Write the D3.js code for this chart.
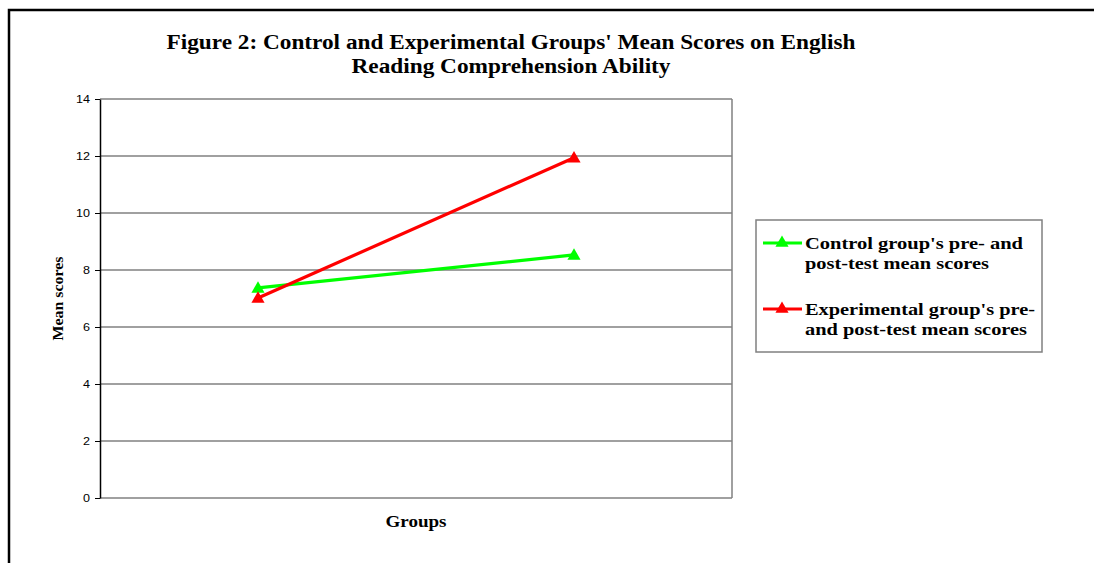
<!DOCTYPE html>
<html>
<head>
<meta charset="utf-8">
<script src="https://cdn.jsdelivr.net/npm/d3@7/dist/d3.min.js"></script>
<style>
  html, body { margin: 0; padding: 0; background: #fff; }
  svg { display: block; }
</style>
</head>
<body>
<svg id="chart" width="1094" height="563"></svg>
<script>
// Data
const groups = ["Pre-test", "Post-test"];
const controlScores = [7.37, 8.53];
const experimentalScores = [7.02, 11.94];
const yTicks = [0, 2, 4, 6, 8, 10, 12, 14];
const seriesNames = ["Control group's pre- and|post-test mean scores",
                     "Experimental group's pre-|and post-test mean scores"];
const seriesColors = ["#00ff00", "#ff0000"];
const titleLines = ["Figure 2: Control and Experimental Groups' Mean Scores on English",
                    "Reading Comprehension Ability"];

const svg = d3.select("#chart");
const serif = "'Liberation Serif', 'Times New Roman', serif";
const sans = "'Liberation Sans', Arial, sans-serif";

// The serif text is set slightly wide; stretch each text run to its width.
function stretch(sel, width) {
  sel.attr("textLength", width).attr("lengthAdjust", "spacingAndGlyphs");
}

// Outer frame (open to the right/bottom edge of the page)
svg.append("path")
  .attr("d", "M9,565 L9,10 L1096,10")
  .attr("fill", "none").attr("stroke", "#000").attr("stroke-width", 2.5);

const plot = { left: 100, right: 732, top: 99, bottom: 498 };

const x = d3.scalePoint().domain(groups).range([plot.left, plot.right]).padding(0.5);
const y = d3.scaleLinear().domain([0, 14]).range([plot.bottom, plot.top]);

// Title
const titleWidths = [689, 319];
const title = svg.append("text")
  .attr("font-family", serif).attr("font-weight", "bold").attr("font-size", 20)
  .attr("text-anchor", "middle").attr("fill", "#000");
title.selectAll("tspan").data(titleLines).join("tspan")
  .attr("x", 511).attr("y", (d, i) => 49 + i * 24).text(d => d)
  .each(function(d, i) { stretch(d3.select(this), titleWidths[i]); });

// Gridlines
svg.append("g").selectAll("line").data(yTicks).join("line")
  .attr("x1", plot.left).attr("x2", plot.right)
  .attr("y1", d => y(d)).attr("y2", d => y(d))
  .attr("stroke", "#808080").attr("stroke-width", 1.5);

// Plot area right border
svg.append("line")
  .attr("x1", plot.right).attr("x2", plot.right)
  .attr("y1", plot.top).attr("y2", plot.bottom)
  .attr("stroke", "#808080").attr("stroke-width", 1.5);

// Y axis
const yAxis = svg.append("g")
  .attr("transform", `translate(${plot.left},0)`)
  .call(d3.axisLeft(y).tickValues(yTicks).tickSize(5).tickPadding(5).tickSizeOuter(0));
yAxis.select(".domain").attr("stroke", "#000").attr("stroke-width", 1.5);
yAxis.selectAll(".tick line").attr("stroke", "#000").attr("stroke-width", 1);
yAxis.selectAll(".tick text")
  .attr("font-family", sans).attr("font-size", 11).attr("fill", "#000")
  .each(function(d) { stretch(d3.select(this), String(d).length * 7); });

// Axis titles
svg.append("text")
  .attr("transform", `translate(63,${(plot.top + plot.bottom) / 2}) rotate(-90)`)
  .attr("text-anchor", "middle")
  .attr("font-family", serif).attr("font-weight", "bold").attr("font-size", 15)
  .text("Mean scores")
  .call(stretch, 84);
svg.append("text")
  .attr("x", 416).attr("y", 527)
  .attr("text-anchor", "middle")
  .attr("font-family", serif).attr("font-weight", "bold").attr("font-size", 16)
  .text("Groups")
  .call(stretch, 61);

// Series lines and triangle markers
const series = [controlScores, experimentalScores];
const line = d3.line().x((d, i) => x(groups[i])).y(d => y(d));
const tri = d3.symbol().type(d3.symbolTriangle).size(75);

series.forEach((vals, si) => {
  svg.append("path")
    .datum(vals)
    .attr("d", line)
    .attr("fill", "none")
    .attr("stroke", seriesColors[si])
    .attr("stroke-width", 3.2);
  svg.append("g").selectAll("path").data(vals).join("path")
    .attr("d", tri)
    .attr("transform", (d, i) => `translate(${x(groups[i])},${y(d) + 1})`)
    .attr("fill", seriesColors[si]);
});

// Legend
const legendWidths = [[218, 184], [230, 222]];
const legend = svg.append("g");
legend.append("rect")
  .attr("x", 756).attr("y", 220).attr("width", 286).attr("height", 132)
  .attr("fill", "#fff").attr("stroke", "#808080").attr("stroke-width", 1.5);

seriesNames.forEach((name, i) => {
  const ly = 243 + i * 66;
  legend.append("line")
    .attr("x1", 763).attr("x2", 802).attr("y1", ly).attr("y2", ly)
    .attr("stroke", seriesColors[i]).attr("stroke-width", 3.2);
  legend.append("path")
    .attr("d", tri)
    .attr("transform", `translate(782,${ly})`)
    .attr("fill", seriesColors[i]);
  const t = legend.append("text")
    .attr("font-family", serif).attr("font-weight", "bold").attr("font-size", 17)
    .attr("fill", "#000");
  name.split("|").forEach((part, j) => {
    t.append("tspan").attr("x", 805).attr("y", ly + 6 + j * 20).text(part)
      .call(stretch, legendWidths[i][j]);
  });
});
</script>
</body>
</html>
